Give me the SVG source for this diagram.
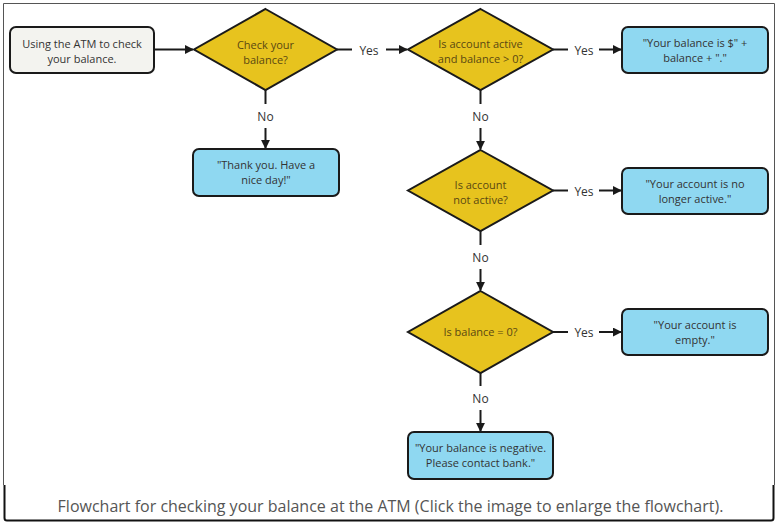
<svg xmlns="http://www.w3.org/2000/svg" width="780" height="527" viewBox="0 0 780 527">
<defs>
<marker id="ah" viewBox="0 0 10 10" refX="9" refY="5" markerWidth="9" markerHeight="9" markerUnits="userSpaceOnUse" orient="auto">
<path d="M0,0 L10,5 L0,10 Z" fill="#1a1a1a"/>
</marker>
<style>
.lbl{font-family:"Open Sans","Liberation Sans",sans-serif;font-size:11px;fill:#333;text-anchor:middle}
.dl{font-family:"Open Sans","Liberation Sans",sans-serif;font-size:11px;fill:#5a4812;text-anchor:middle}
.el{font-family:"Open Sans","Liberation Sans",sans-serif;font-size:12px;fill:#333;text-anchor:middle}
.dia{fill:#e7c31e;stroke:#1a1a1a;stroke-width:2;stroke-linejoin:miter}
.box{fill:#8fd8f1;stroke:#1a1a1a;stroke-width:2}
.start{fill:#f3f3ef;stroke:#1a1a1a;stroke-width:2}
.ln{stroke:#1a1a1a;stroke-width:2;fill:none}
.ar{stroke:#1a1a1a;stroke-width:2;fill:none;marker-end:url(#ah)}
</style>
</defs>
<rect width="780" height="527" fill="#ffffff"/>
<g id="frame">
<path d="M3.5,485 V3.5 H774.5 V485" fill="none" stroke="#555" stroke-width="1"/>
<path d="M4.5,485 V518 Q4.5,520.5 7,520.5 H771 Q773.5,520.5 773.5,518 V485" fill="none" stroke="#111" stroke-width="2"/>
</g>
<g id="start">
<rect class="start" x="10" y="27" width="144" height="46" rx="6"/>
<text class="lbl" x="82" y="48">Using the ATM to check</text>
<text class="lbl" x="82" y="63">your balance.</text>
</g>
<g id="d1">
<polygon class="dia" points="265.5,9 337,49.5 265.5,90 194,49.5"/>
<text class="dl" x="265.5" y="49">Check your</text>
<text class="dl" x="265.5" y="64">balance?</text>
</g>
<g id="thanks">
<rect class="box" x="193" y="149" width="146" height="47" rx="6"/>
<text class="lbl" x="266" y="169">"Thank you. Have a</text>
<text class="lbl" x="266" y="184">nice day!"</text>
</g>
<g id="d2">
<polygon class="dia" points="480.5,9 553,49.5 480.5,90 408,49.5"/>
<text class="dl" x="480.5" y="48">Is account active</text>
<text class="dl" x="480.5" y="63">and balance &gt; 0?</text>
</g>
<g id="r1">
<rect class="box" x="622" y="27" width="146" height="46" rx="6"/>
<text class="lbl" x="695" y="47">"Your balance is $" +</text>
<text class="lbl" x="695" y="62">balance + "."</text>
</g>
<g id="d3">
<polygon class="dia" points="480.5,150 553,190.5 480.5,231 408,190.5"/>
<text class="dl" x="480.5" y="189">Is account</text>
<text class="dl" x="480.5" y="204">not active?</text>
</g>
<g id="r2">
<rect class="box" x="622" y="168" width="146" height="46" rx="6"/>
<text class="lbl" x="695" y="188">"Your account is no</text>
<text class="lbl" x="695" y="203">longer active."</text>
</g>
<g id="d4">
<polygon class="dia" points="480.5,291 553,332 480.5,373 408,332"/>
<text class="dl" x="480.5" y="336">Is balance = 0?</text>
</g>
<g id="r3">
<rect class="box" x="622" y="309" width="146" height="46" rx="6"/>
<text class="lbl" x="695" y="329">"Your account is</text>
<text class="lbl" x="695" y="344">empty."</text>
</g>
<g id="r4">
<rect class="box" x="408" y="432" width="145" height="47" rx="6"/>
<text class="lbl" x="480.5" y="452">"Your balance is negative.</text>
<text class="lbl" x="480.5" y="467">Please contact bank."</text>
</g>
<g id="connectors">
<line class="ar" x1="154" y1="49.5" x2="193" y2="49.5"/>
<line class="ln" x1="337" y1="49.5" x2="352" y2="49.5"/>
<text class="el" x="369" y="55">Yes</text>
<line class="ar" x1="386" y1="49.5" x2="407" y2="49.5"/>
<line class="ln" x1="265.5" y1="90" x2="265.5" y2="104"/>
<text class="el" x="265.5" y="121">No</text>
<line class="ar" x1="265.5" y1="128" x2="265.5" y2="148"/>
<line class="ln" x1="553" y1="49.5" x2="568" y2="49.5"/>
<text class="el" x="584" y="55">Yes</text>
<line class="ar" x1="599" y1="49.5" x2="621" y2="49.5"/>
<line class="ln" x1="480.5" y1="90" x2="480.5" y2="104"/>
<text class="el" x="480.5" y="121">No</text>
<line class="ar" x1="480.5" y1="128" x2="480.5" y2="149"/>
<line class="ln" x1="553" y1="190.5" x2="568" y2="190.5"/>
<text class="el" x="584" y="196">Yes</text>
<line class="ar" x1="599" y1="190.5" x2="621" y2="190.5"/>
<line class="ln" x1="480.5" y1="231" x2="480.5" y2="245"/>
<text class="el" x="480.5" y="262">No</text>
<line class="ar" x1="480.5" y1="269" x2="480.5" y2="290"/>
<line class="ln" x1="553" y1="332" x2="568" y2="332"/>
<text class="el" x="584" y="337">Yes</text>
<line class="ar" x1="599" y1="332" x2="621" y2="332"/>
<line class="ln" x1="480.5" y1="373" x2="480.5" y2="386"/>
<text class="el" x="480.5" y="403">No</text>
<line class="ar" x1="480.5" y1="410" x2="480.5" y2="431"/>
</g>
<text x="390.5" y="512" font-family="Open Sans, Liberation Sans, sans-serif" font-size="16" fill="#555" text-anchor="middle">Flowchart for checking your balance at the ATM (Click the image to enlarge the flowchart).</text>
</svg>
